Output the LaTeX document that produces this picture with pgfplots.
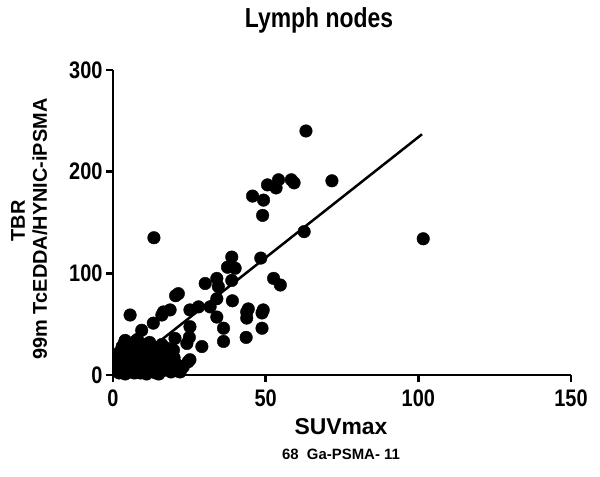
\documentclass[border=0pt]{standalone}
\usepackage{pgfplots}
\pgfplotsset{compat=1.18}
\usepackage{fontspec}
\setmainfont{Liberation Sans}
\newcommand\vs[1]{\scalebox{1}[1.2]{#1}}
\begin{document}
\begin{tikzpicture}[x=1bp,y=1bp]
\path[use as bounding box] (-113,-102) rectangle (487,375);
\begin{axis}[
  at={(0,0)}, anchor=south west,
  scale only axis, width=458bp, height=305bp,
  xmin=0, xmax=150, ymin=0, ymax=300,
  axis x line*=bottom, axis y line*=left,
  axis line style={-, line width=2.5bp},
  tick align=outside, major tick length=7bp,
  every tick/.style={black, line width=2.5bp},
  xtick={0,50,100,150}, ytick={0,100,200,300},
  tick label style={font=\bfseries\fontsize{20}{20}\selectfont},
  xticklabel style={yshift=-4bp},
  /pgf/number format/assume math mode=true,
  xticklabel={\vs{\pgfmathprintnumber{\tick}}},
  yticklabel={\vs{\pgfmathprintnumber{\tick}}},
  clip=false,
]
\addplot[only marks, mark=*, mark size=6.3bp, black] coordinates {
(63.2,240) (45.7,176) (49.3,172) (49.0,157) (50.6,187) (54.2,192) (53.4,184)
(58.4,192) (59.3,189) (71.7,191) (101.6,134) (13.4,135) (62.6,141) (48.4,115)
(38.9,116) (37.5,106) (40,105) (38.9,93) (52.6,95) (54.8,88.5) (39.1,73)
(44.3,65) (49.2,64)
(30.2,90) (34,95) (34.5,87) (21.4,80) (20.5,78) (18.7,64) (16,59) (25.2,64)
(28,67) (31.8,67) (34,75) (34,57) (43.8,62) (43.8,56) (48.8,61) (48.8,46)
(43.6,37) (36.2,46) (36.2,33) (25.2,47.5) (29.1,28) (20.3,36) (24.2,31)
(25.2,15) (19.8,24.6) (5.6,59) (16.5,62) (13.2,51) (9.4,44) (3.9,33) (7.2,33)
(24.6,13) (25,37)
(2,2) (3,5) (4,1) (5,8) (6,3) (7,12) (8,6) (9,2) (10,15) (11,9) (12,4) (13,18)
(14,11) (15,6) (16,22) (17,14) (18,8) (19,3) (20,17) (21,10) (3,12) (4,20)
(5,15) (6,24) (7,19) (8,27) (9,22) (10,30) (11,25) (12,20) (13,28) (14,2)
(15,24) (16,30) (17,5) (18,26) (2,8) (3,18) (4,26) (6,30) (8,16) (10,10)
(12,13) (14,16) (16,12) (18,19) (20,6) (22,3) (23,8) (6,10) (9,8) (11,1)
(13,6) (5,3) (7,5) (15,1) (17,20) (19,12) (2,14) (4,34) (8,35) (12,32) (6,18)
(2,22) (3,28) (5,31) (7,26) (9,29) (11,17) (13,23) (15,13) (17,10) (19,21)
(21,4) (10,5) (12,9) (14,25) (16,4) (18,14) (5,21) (9,14) (7,2) (3,9)
};
\addplot[no marks, black, line width=2.5bp] coordinates {(2,1.7) (101.2,236.8)};
\end{axis}
\node[anchor=base, font=\bfseries\fontsize{23}{23}\selectfont] at (206,347) {\vs{Lymph nodes}};
\node[anchor=base, font=\bfseries\fontsize{23}{23}\selectfont] at (228,-60) {SUVmax};
\node[anchor=base, font=\bfseries\fontsize{15}{15}\selectfont] at (228,-85) {68\ \ Ga-PSMA- 11};
\node[anchor=base, rotate=90, font=\bfseries\fontsize{20}{20}\selectfont] at (-88,154) {TBR};
\node[anchor=base, rotate=90, font=\bfseries\fontsize{20}{20}\selectfont] at (-66,146) {99m TcEDDA/HYNIC-iPSMA};
\end{tikzpicture}
\end{document}
